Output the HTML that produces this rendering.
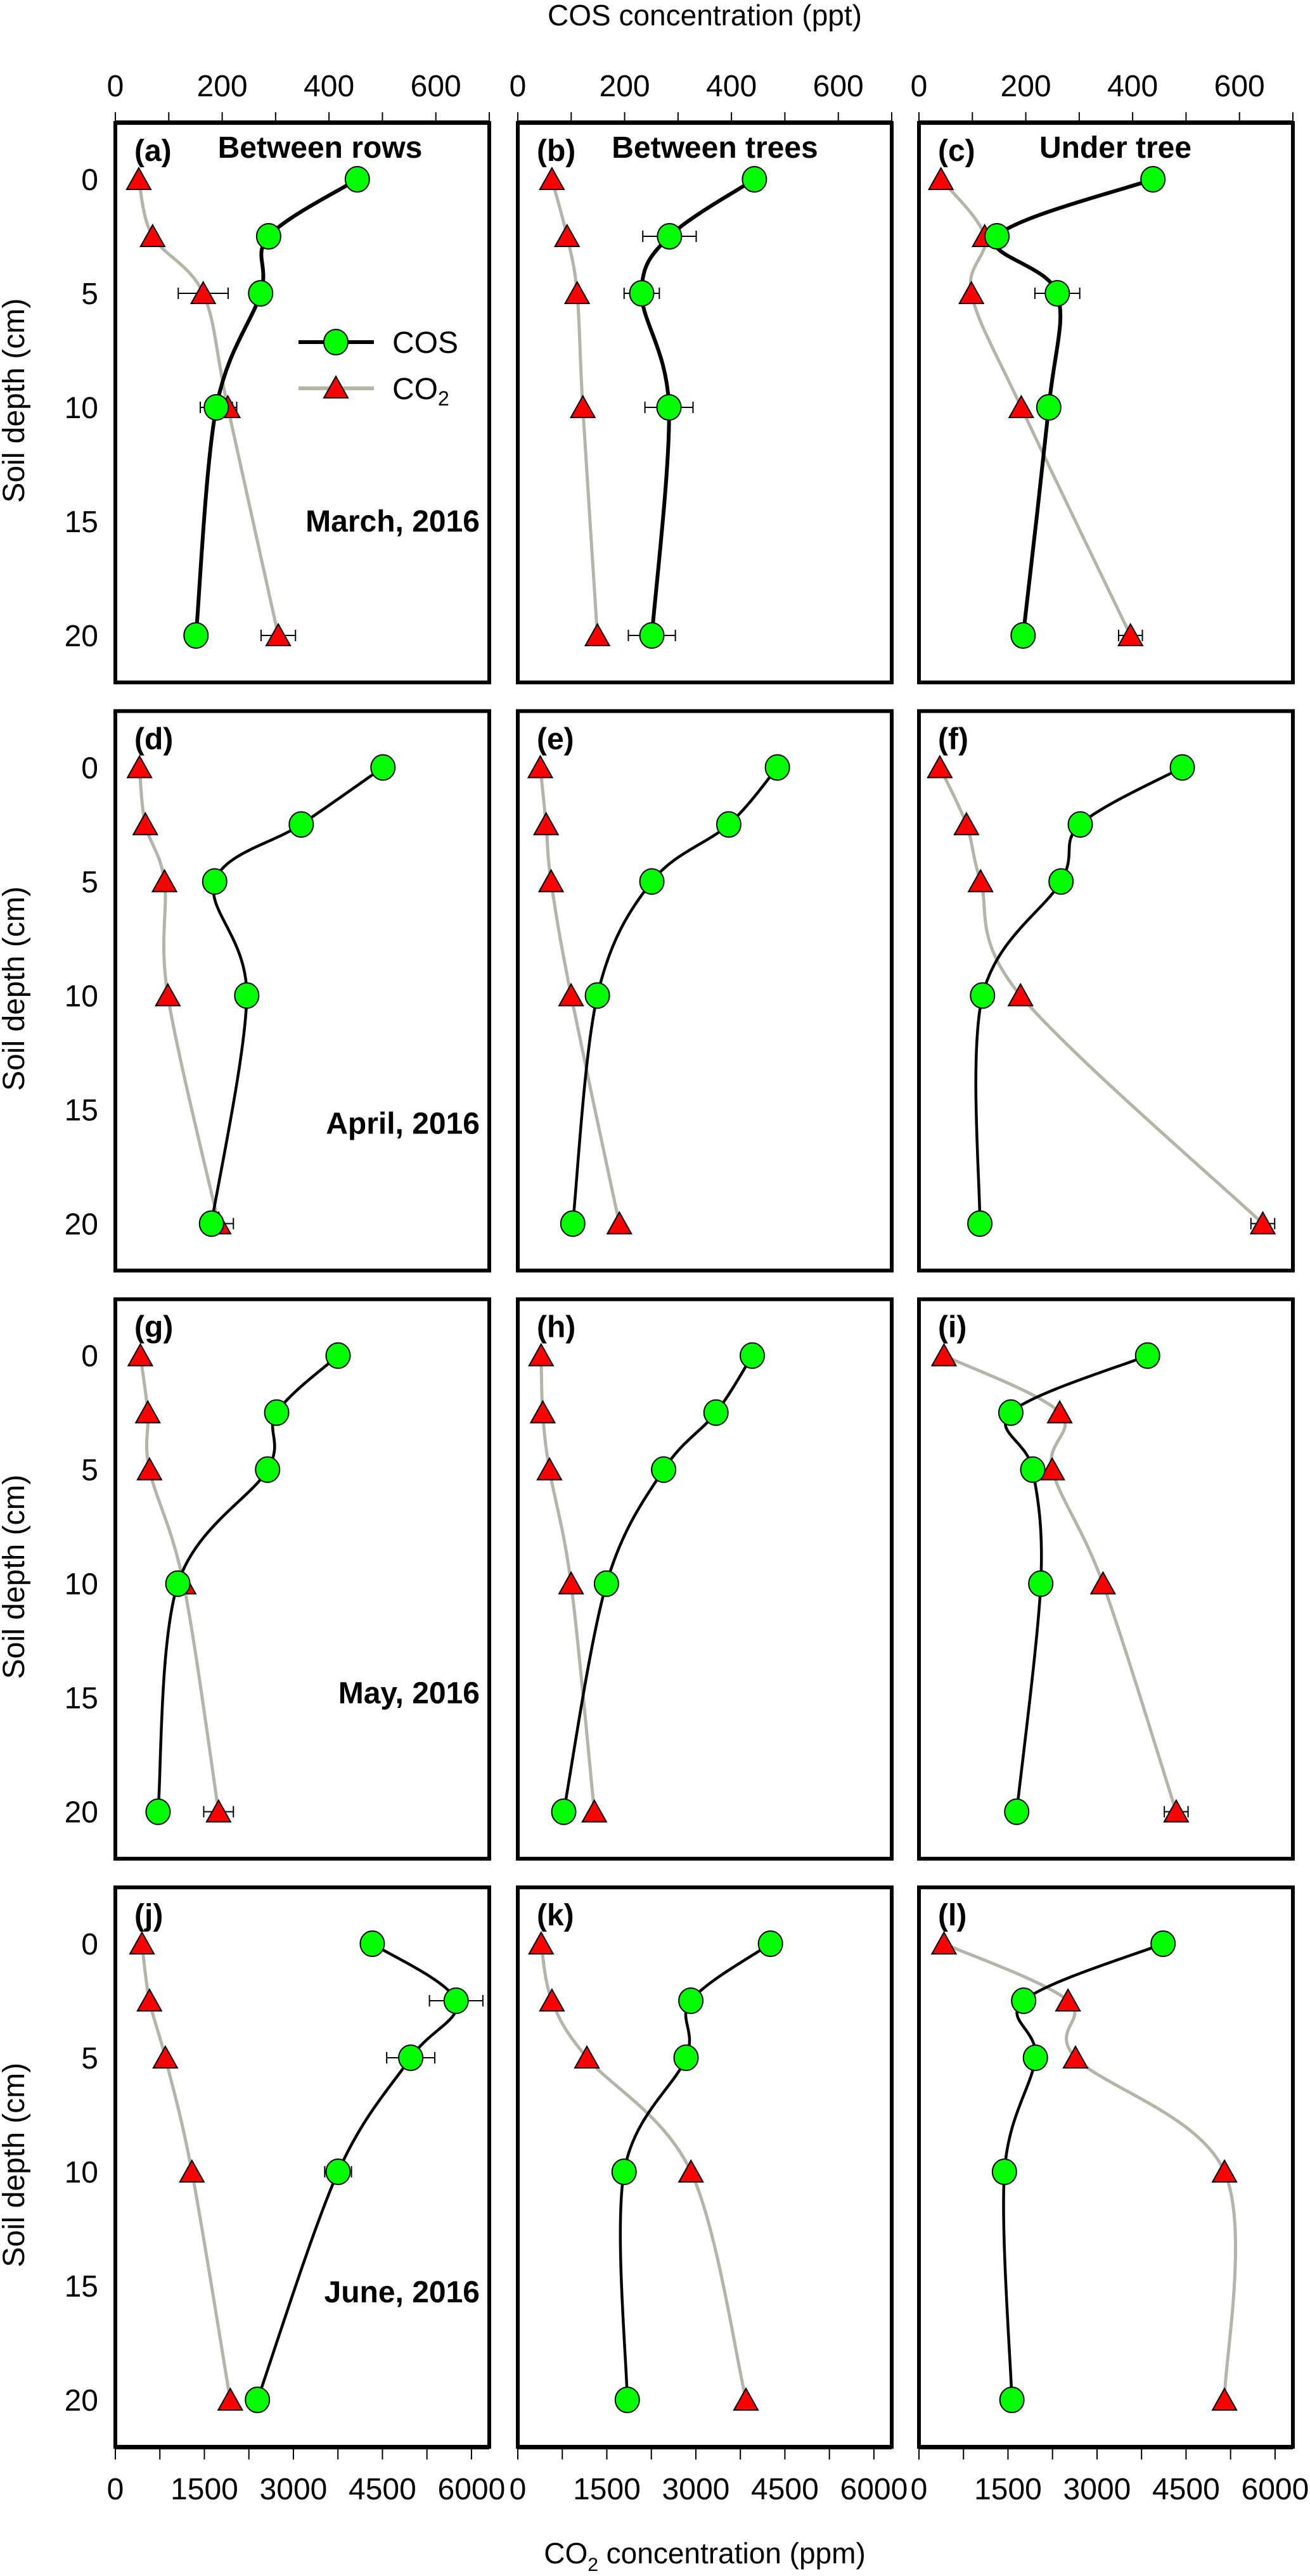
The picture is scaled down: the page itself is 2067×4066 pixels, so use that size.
<!DOCTYPE html>
<html><head><meta charset="utf-8">
<style>
html,body{margin:0;padding:0;background:#fff;}
svg{display:block;font-family:"Liberation Sans",Arial,sans-serif;}
</style></head>
<body>
<svg id="fig" width="2067" height="4066" viewBox="0 0 2067 4066" xmlns="http://www.w3.org/2000/svg">
<rect width="2067" height="4066" fill="#fff"/>
<text x="1112" y="40" font-size="46" text-anchor="middle">COS concentration (ppt)</text>
<text x="1112" y="4046" font-size="46" text-anchor="middle">CO<tspan font-size="30" dy="12">2</tspan><tspan dy="-12"> concentration (ppm)</tspan></text>
<g id="plots"></g>
</svg>
<script>
// Depths (cm)
const depths = [0, 2.5, 5, 10, 20];
// Panel labels, order a..l (row-major)
const panelLabels = ["(a)","(b)","(c)","(d)","(e)","(f)","(g)","(h)","(i)","(j)","(k)","(l)"];
const columnTitles = ["Between rows","Between trees","Under tree"];
const monthLabels = ["March, 2016","April, 2016","May, 2016","June, 2016"];
// COS concentration (ppt), per panel
const cosA = [453, 287, 272, 189, 151];
const cosB = [443, 284, 232, 283, 251];
const cosC = [438, 146, 259, 243, 195];
const cosD = [501, 348, 186, 246, 180];
const cosE = [486, 395, 251, 149, 103];
const cosF = [493, 302, 266, 119, 114];
const cosG = [417, 302, 285, 117, 80];
const cosH = [439, 371, 273, 166, 86];
const cosI = [428, 172, 213, 228, 183];
const cosJ = [481, 638, 553, 417, 266];
const cosK = [473, 324, 315, 199, 205];
const cosL = [457, 196, 218, 160, 174];
// CO2 concentration (ppm), per panel
const co2A = [394, 628, 1480, 1895, 2745];
const co2B = [575, 830, 1000, 1096, 1341];
const co2C = [370, 1107, 883, 1723, 3564];
const co2D = [407, 505, 828, 884, 1739];
const co2E = [379, 477, 561, 898, 1711];
const co2F = [351, 800, 1038, 1711, 5793];
const co2G = [421, 547, 575, 1150, 1739];
const co2H = [393, 421, 533, 898, 1290];
const co2I = [421, 2371, 2245, 3100, 4334];
const co2J = [449, 575, 842, 1290, 1936];
const co2K = [393, 575, 1164, 2918, 3844];
const co2L = [421, 2511, 2637, 5148, 5148];
// Error bars (half-widths)
const cosErrA = [0, 0, 0, 30, 0];
const cosErrB = [0, 50, 33, 45, 44];
const cosErrC = [0, 0, 42, 0, 0];
const cosErrD = [0, 12, 0, 0, 15];
const cosErrG = [0, 12, 0, 0, 0];
const cosErrJ = [0, 50, 45, 25, 10];
const co2ErrA = [0, 0, 420, 150, 290];
const co2ErrC = [0, 0, 0, 0, 200];
const co2ErrD = [0, 0, 0, 0, 250];
const co2ErrF = [0, 0, 0, 0, 200];
const co2ErrG = [0, 0, 0, 0, 250];
const co2ErrI = [0, 0, 0, 0, 200];
// Axis ticks
const cosTicks = [0, 200, 400, 600];
const co2Ticks = [0, 1500, 3000, 4500, 6000];
const depthTicks = [0, 5, 10, 15, 20];

const cosSeries = [cosA,cosB,cosC,cosD,cosE,cosF,cosG,cosH,cosI,cosJ,cosK,cosL];
const co2Series = [co2A,co2B,co2C,co2D,co2E,co2F,co2G,co2H,co2I,co2J,co2K,co2L];
const Z = [0,0,0,0,0];
const cosErrs = [cosErrA,cosErrB,cosErrC,cosErrD,Z,Z,cosErrG,Z,Z,cosErrJ,Z,Z];
const co2Errs = [co2ErrA,Z,co2ErrC,co2ErrD,Z,co2ErrF,co2ErrG,Z,co2ErrI,Z,Z,Z];

const NS = "http://www.w3.org/2000/svg";
const root = document.getElementById("plots");
const colLeft = [182, 817, 1450];
const PW = 590;
const COS_MAX = 700, CO2_MAX = 6300;
const DEPTH_MIN = -2.47, DEPTH_MAX = 22.06;
const rowY0 = r => 283 + r * 928.33;
const PX_PER_CM = 36;

function mk(tag, attrs, parent){
  const e = document.createElementNS(NS, tag);
  for (const k in attrs) e.setAttribute(k, attrs[k]);
  (parent || root).appendChild(e);
  return e;
}
function txt(s, attrs, parent){ const t = mk("text", attrs, parent); t.textContent = s; return t; }

function smoothPath(pts){
  let d = "M" + pts[0][0].toFixed(1) + "," + pts[0][1].toFixed(1);
  for (let i = 0; i < pts.length - 1; i++){
    const p0 = pts[i-1] || pts[i], p1 = pts[i], p2 = pts[i+1], p3 = pts[i+2] || pts[i+1];
    const c1 = [p1[0] + (p2[0]-p0[0])/6, p1[1] + (p2[1]-p0[1])/6];
    const c2 = [p2[0] - (p3[0]-p1[0])/6, p2[1] - (p3[1]-p1[1])/6];
    d += " C" + c1[0].toFixed(1) + "," + c1[1].toFixed(1) + " " + c2[0].toFixed(1) + "," + c2[1].toFixed(1) + " " + p2[0].toFixed(1) + "," + p2[1].toFixed(1);
  }
  return d;
}
function errBar(g, x, y, half){
  if (half <= 0) return;
  const e = mk("path", {d:`M${x-half},${y}H${x+half}M${x-half},${y-9}V${y+9}M${x+half},${y-9}V${y+9}`, stroke:"#000", "stroke-width":2, fill:"none"}, g);
  
  
}
function circle(g, x, y){
  const c = mk("ellipse", {cx:x, cy:y, rx:19, ry:20, fill:"#00ff00", stroke:"#000", "stroke-width":2}, g);
  
  
}
function tri(g, x, y){
  const t = mk("polygon", {points:`${x-19},${y+16} ${x+19},${y+16} ${x},${y-18}`, fill:"#ff0000", stroke:"#000", "stroke-width":2}, g);
  
  
}

for (let r = 0; r < 4; r++){
  const y0 = rowY0(r);
  const yS = d => y0 + d * PX_PER_CM;
  const top = yS(DEPTH_MIN), bot = yS(DEPTH_MAX);
  // y-axis title
  const yt = txt("Soil depth (cm)", {x:0, y:0, "font-size":48, "text-anchor":"middle", transform:`translate(38,${yS(9.7)}) rotate(-90)`});
  
  
  depthTicks.forEach(dv => {
    const t = txt(String(dv), {x:155, y:yS(dv)+17, "font-size":48, "text-anchor":"end"});
    
    
  });
  for (let c = 0; c < 3; c++){
    const idx = r*3 + c;
    const L = colLeft[c];
    const xC = v => L + v / COS_MAX * PW;
    const xO = v => L + v / CO2_MAX * PW;
    const g = mk("g", {});
    
    
    const fr = mk("rect", {x:L, y:top, width:PW, height:bot-top, fill:"none", stroke:"#000", "stroke-width":6}, g);
    
    
    if (r === 0){
      for (let v = 0; v <= 700; v += 100){
        mk("line", {x1:xC(v), x2:xC(v), y1:top, y2:top-17, stroke:"#000", "stroke-width":2}, g);
      }
      mk("rect", {x:L, y:top-4, width:PW, height:6, fill:"#000"}, g);
      cosTicks.forEach(v => {
        const t = txt(String(v), {x:xC(v), y:152, "font-size":48, "text-anchor":"middle"}, g);
        
        
      });
      const ct = txt(columnTitles[c], {x:[505,1128,1760][c], y:249, "font-size":48, "font-weight":"bold", "text-anchor":"middle"}, g);
      
      
    }
    if (r === 3){
      for (let v = 0; v <= 6000; v += 750){
        mk("line", {x1:xO(v), x2:xO(v), y1:bot, y2:bot+20, stroke:"#000", "stroke-width":2}, g);
      }
      mk("rect", {x:L, y:bot-3, width:PW, height:7, fill:"#000"}, g);
      co2Ticks.forEach(v => {
        const t = txt(String(v), {x:xO(v), y:3945, "font-size":48, "text-anchor":"middle"}, g);
        
        
      });
    }
    const pl = txt(panelLabels[idx], {x:L+30, y:y0-29, "font-size":48, "font-weight":"bold"}, g);
    
    
    if (c === 0){
      const ml = txt(monthLabels[r], {x:757, y:y0 + [556,578,549,566][r], "font-size":48, "font-weight":"bold", "text-anchor":"end"}, g);
      
      
    }
    const cosPts = depths.map((d,i) => [xC(cosSeries[idx][i]), yS(d)]);
    const co2Pts = depths.map((d,i) => [xO(co2Series[idx][i]), yS(d)]);
    const lc = mk("path", {d:smoothPath(co2Pts), stroke:"#b4b4a9", "stroke-width":5, fill:"none"}, g);
    
    
    const lo = mk("path", {d:smoothPath(cosPts), stroke:"#000", "stroke-width":r===0?6:4.5, fill:"none"}, g);
    
    
    co2Pts.forEach((p,i) => errBar(g, p[0], p[1], co2Errs[idx][i] / CO2_MAX * PW));
    cosPts.forEach((p,i) => errBar(g, p[0], p[1], cosErrs[idx][i] / COS_MAX * PW));
    co2Pts.forEach(p => tri(g, p[0], p[1]));
    cosPts.forEach(p => circle(g, p[0], p[1]));
  }
}
// Legend (panel a)
const lg = mk("g", {});


const le1 = mk("g", {}, lg);


mk("line", {x1:471, x2:590, y1:540, y2:540, stroke:"#000", "stroke-width":6}, le1);
circle(le1, 530, 540);
txt("COS", {x:619, y:557, "font-size":48}, le1);
const le2 = mk("g", {}, lg);


mk("line", {x1:471, x2:590, y1:613, y2:613, stroke:"#b4b4a9", "stroke-width":6}, le2);
tri(le2, 530, 612);
const t2 = txt("CO", {x:619, y:630, "font-size":48}, le2);
const sub = document.createElementNS(NS, "tspan");
sub.setAttribute("font-size", "32"); sub.setAttribute("dy", "10"); sub.textContent = "2";
t2.appendChild(sub);
</script>
</body></html>
